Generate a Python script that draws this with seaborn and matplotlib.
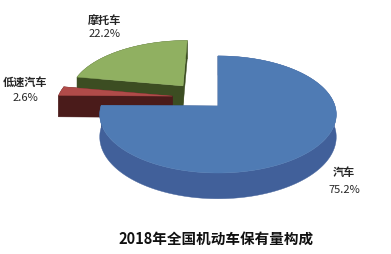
import numpy as np
import matplotlib
matplotlib.use("Agg")
import matplotlib.pyplot as plt
from matplotlib.patches import Polygon
import seaborn as sns

# ---- data ----
categories = ["汽车", "低速汽车", "摩托车"]
shares = [75.2, 2.6, 22.2]
title = "2018年全国机动车保有量构成"

# ---- style ----
top_colors = ["#4f7bb4", "#b04b49", "#90b061"]
side_colors = ["#41609a", "#4e1e1c", "#3f5124"]
face_colors = ["#3d5a8c", "#4a1b1a", "#3c4d22"]
offsets = [(0.0, 0.0), (-0.40, 0.177), (-0.315, 0.37)]   # explode (3D units)
label_pos = [(344, 173, 190), (25, 82, 98), (105, 20, 34)]
draw_order = [2, 1, 0]

sns.set_theme(style="white")
plt.rcParams['font.family'] = ['Noto Sans CJK SC', 'DejaVu Sans']

W, H = 391, 255
fig = plt.figure(figsize=(W / 100, H / 100), dpi=100)
ax = fig.add_axes([0, 0, 1, 1])
ax.set_xlim(0, W)
ax.set_ylim(H, 0)
ax.axis("off")

cx, cy, rx, ry, k, depth = 218, 107, 117, 57.3, 0.145, 22


def proj(x, y, z):
    d = 1.0 / (1.0 + k * y)
    return cx + rx * x * d, cy - ry * y * d + z * depth * d


# slice angles: start at 90 deg, clockwise
fr = np.array(shares) / sum(shares)
ends = 90 - 360 * np.cumsum(fr)
starts = np.concatenate([[90], ends[:-1]])

for i in draw_order:
    a0, a1 = starts[i], ends[i]
    ox, oy = offsets[i]
    n = max(4, int(abs(a0 - a1) / 1.5))
    th = np.radians(np.linspace(a0, a1, n))
    arc = [(ox + np.cos(t), oy + np.sin(t)) for t in th]
    # outer curved side
    side = [proj(x, y, 0) for x, y in arc] + [proj(x, y, 1) for x, y in arc[::-1]]
    ax.add_patch(Polygon(side, closed=True, facecolor=side_colors[i],
                         edgecolor=side_colors[i], lw=0.3))
    # radial cut faces
    for (x, y) in (arc[0], arc[-1]):
        quad = [proj(ox, oy, 0), proj(x, y, 0), proj(x, y, 1), proj(ox, oy, 1)]
        ax.add_patch(Polygon(quad, closed=True, facecolor=face_colors[i],
                             edgecolor=face_colors[i], lw=0.3))
    top = [proj(ox, oy, 0)] + [proj(x, y, 0) for x, y in arc]
    ax.add_patch(Polygon(top, closed=True, facecolor=top_colors[i],
                         edgecolor=top_colors[i], lw=0.3))

for i, cat in enumerate(categories):
    x, y1, y2 = label_pos[i]
    ax.text(x, y1, cat, ha="center", va="center", fontsize=8, fontweight="bold", color="#262626")
    ax.text(x, y2, f"{shares[i]}%", ha="center", va="center", fontsize=8,
            fontweight="medium", color="#262626")

ax.text(216, 239, title, ha="center", va="center", fontsize=10.5, fontweight="bold", color="#111111")

fig.savefig("out.png", dpi=100)
